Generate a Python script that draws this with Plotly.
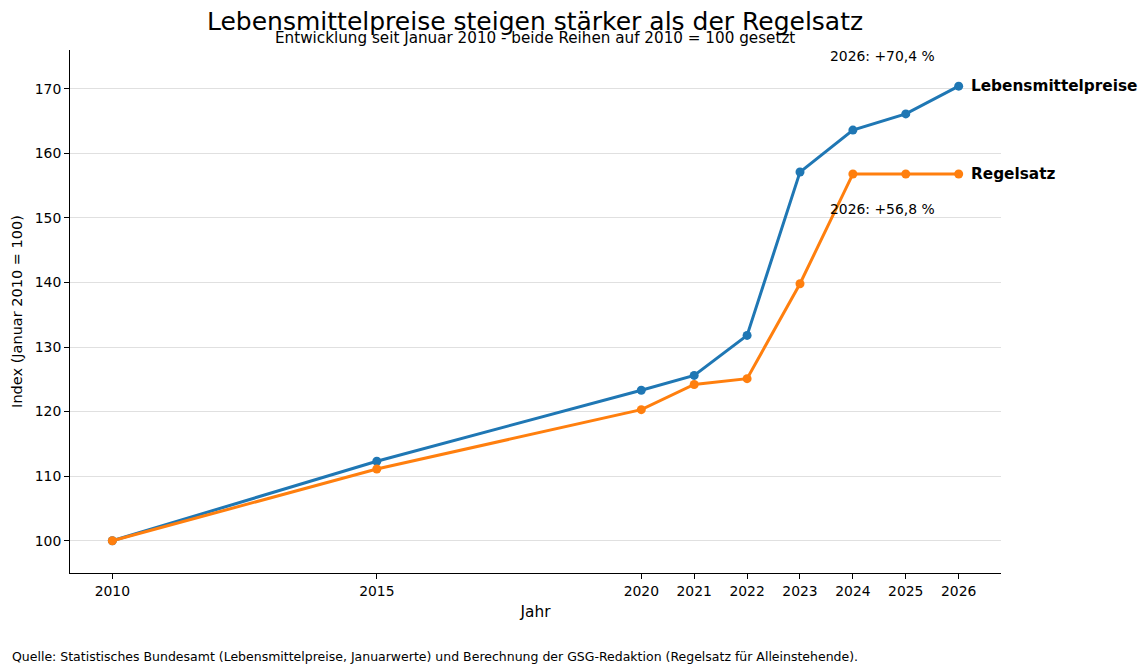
import plotly.graph_objects as go

jahre = [2010, 2015, 2020, 2021, 2022, 2023, 2024, 2025, 2026]
lebensmittel = [100.0, 112.3, 123.3, 125.6, 131.8, 157.1, 163.6, 166.1, 170.4]
regelsatz = [100.0, 111.1, 120.3, 124.2, 125.1, 139.8, 156.8, 156.8, 156.8]
serien_namen = ["Lebensmittelpreise", "Regelsatz"]
farben = ["#1f77b4", "#ff7f0e"]
y_ticks = [100, 110, 120, 130, 140, 150, 160, 170]

FONT = "DejaVu Sans"
L, R, T, B = 70, 143, 50, 99
PW, PH = 1144 - L - R, 672 - T - B


def px(x):
    return (x - L) / PW


def py(y):
    return (672 - B - y) / PH


fig = go.Figure()
for name, vals, col in zip(serien_namen, [lebensmittel, regelsatz], farben):
    fig.add_trace(go.Scatter(x=jahre, y=vals, mode="lines+markers", name=name,
                             line=dict(color=col, width=3),
                             marker=dict(color=col, size=9), showlegend=False,
                             cliponaxis=False))
    fig.add_annotation(x=jahre[-1], y=vals[-1], text=f"<b>{name}</b>", xref="x", yref="y",
                       xanchor="left", yanchor="middle", xshift=10, showarrow=False,
                       font=dict(family=FONT, size=15.3, color="black"))

fig.add_annotation(x=2024.56, y=175.0, text=f"2026: +{lebensmittel[-1]-100:.1f} %".replace(".", ","),
                   xref="x", yref="y", showarrow=False, xanchor="center", yanchor="middle",
                   font=dict(family=FONT, size=13.9, color="black"))
fig.add_annotation(x=2024.56, y=151.4, text=f"2026: +{regelsatz[-1]-100:.1f} %".replace(".", ","),
                   xref="x", yref="y", showarrow=False, xanchor="center", yanchor="middle",
                   font=dict(family=FONT, size=13.9, color="black"))

fig.add_annotation(x=px(535), y=py(21), xref="paper", yref="paper", showarrow=False,
                   text="Lebensmittelpreise steigen stärker als der Regelsatz",
                   xanchor="center", yanchor="middle", font=dict(family=FONT, size=25, color="black"))
fig.add_annotation(x=px(535), y=py(38), xref="paper", yref="paper", showarrow=False,
                   text="Entwicklung seit Januar 2010 - beide Reihen auf 2010 = 100 gesetzt",
                   xanchor="center", yanchor="middle", font=dict(family=FONT, size=15.2, color="black"))
fig.add_annotation(x=px(10), y=py(656), xref="paper", yref="paper", showarrow=False,
                   text="Quelle: Statistisches Bundesamt (Lebensmittelpreise, Januarwerte) und Berechnung der GSG-Redaktion (Regelsatz für Alleinstehende).",
                   xanchor="left", yanchor="middle", font=dict(family=FONT, size=12.5, color="black"))

fig.update_layout(
    width=1144, height=672,
    margin=dict(l=L, r=R, t=T, b=B),
    paper_bgcolor="white", plot_bgcolor="white",
    font=dict(family=FONT, size=13.9, color="black"),
    xaxis=dict(range=[2009.2, 2026.8], tickmode="array", tickvals=jahre,
               ticktext=[str(j) for j in jahre], showgrid=False, zeroline=False,
               showline=True, linecolor="black", linewidth=1, ticks="outside",
               ticklen=5, tickcolor="black",
               title=dict(text="Jahr", font=dict(family=FONT, size=15.3), standoff=8)),
    yaxis=dict(range=[95, 176], tickmode="array", tickvals=y_ticks, showgrid=True,
               gridcolor="#e0e0e0", gridwidth=1, zeroline=False, showline=True,
               linecolor="black", linewidth=1, ticks="outside", ticklen=5, tickcolor="black",
               title=dict(text="Index (Januar 2010 = 100)", font=dict(family=FONT, size=14.5), standoff=8)),
)

fig.write_html("out.html")
